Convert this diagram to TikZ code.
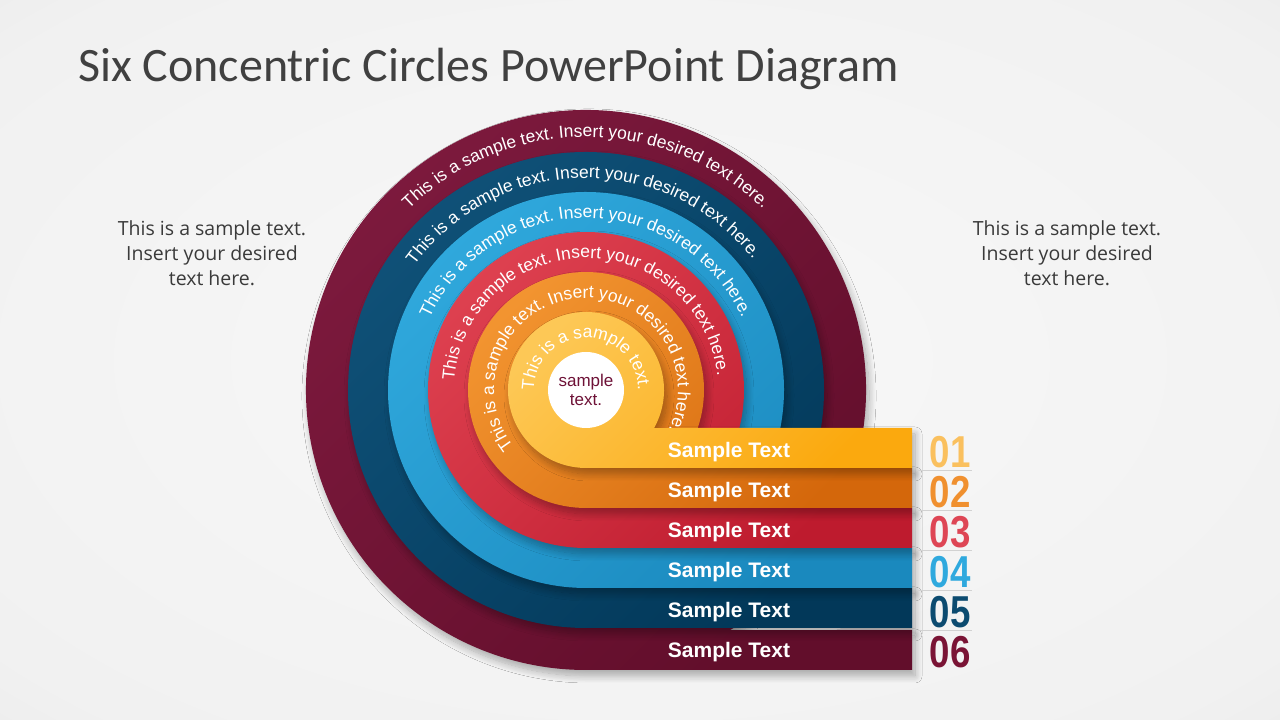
\documentclass[tikz,border=0pt]{standalone}
\usepackage{fontspec}
\usepackage{tikz}
\usetikzlibrary{decorations.text,shadows.blur}
\usepackage{xcolor}
\setmainfont{Open Sans}
\newfontfamily\titlefont{Carlito}
\newfontfamily\arcfont{Liberation Sans}
\newfontfamily\numfont[FakeStretch=0.82]{Liberation Sans}
\definecolor{bgA}{HTML}{F8F8F8}
\definecolor{bgC}{HTML}{F1F1F1}
\definecolor{bgB}{HTML}{E2E2E2}
\definecolor{yellowA}{HTML}{FDC856}
\definecolor{yellowB}{HTML}{FBA90E}
\definecolor{orangeA}{HTML}{F29430}
\definecolor{orangeB}{HTML}{D4670B}
\definecolor{redA}{HTML}{DE4150}
\definecolor{redB}{HTML}{BE1B2E}
\definecolor{cyanA}{HTML}{30A9DD}
\definecolor{cyanB}{HTML}{1A89BE}
\definecolor{navyA}{HTML}{105279}
\definecolor{navyB}{HTML}{023859}
\definecolor{wineA}{HTML}{7E1A3E}
\definecolor{wineB}{HTML}{620E2B}
\definecolor{numA}{HTML}{FAC05E}
\definecolor{numB}{HTML}{F0902F}
\definecolor{numC}{HTML}{DE4655}
\definecolor{numD}{HTML}{2FA9DE}
\definecolor{numE}{HTML}{0C4B70}
\definecolor{numF}{HTML}{7A1435}
\definecolor{centertext}{HTML}{6E1237}
\definecolor{sidegray}{HTML}{3A3A3A}
\definecolor{titlegray}{HTML}{404040}
\definecolor{sepgray}{HTML}{D2D2D2}
\pgfdeclareradialshading{slidebg}{\pgfpoint{0bp}{0bp}}{color(0bp)=(bgA); color(32bp)=(bgC); color(50bp)=(bgB)}
\newcommand\arcstyle{\arcfont\fontsize{17.5}{20}\selectfont\color{white}}

\begin{document}
\begin{tikzpicture}[x=1pt,y=1pt,node distance=221pt,
  ring/.style={blur shadow={shadow xshift=3pt,shadow yshift=-6pt,shadow blur radius=7pt,shadow blur steps=12,shadow opacity=30}},
  wine/.style={top color=wineA,bottom color=wineB,shading angle=45},
  navy/.style={top color=navyA,bottom color=navyB,shading angle=45},
  cyan/.style={top color=cyanA,bottom color=cyanB,shading angle=45},
  redring/.style={top color=redA,bottom color=redB,shading angle=45},
  orange/.style={top color=orangeA,bottom color=orangeB,shading angle=45},
  yellow/.style={top color=yellowA,bottom color=yellowB,shading angle=45},
  ringtext/.style={decorate,decoration={text along path,text align=center,text={|\arcstyle|#1}}},
  bandtext/.style={text=white,font=\arcfont\bfseries\fontsize{21}{24}\selectfont},
  digits/.style={font=\numfont\bfseries\fontsize{44.7}{46}\selectfont,inner sep=0pt},
  sidetext/.style={align=center,text=sidegray,font=\fontsize{19.5}{25}\selectfont},
  sepline/.style={draw=sepgray,line width=0.8pt}]
  \useasboundingbox (0,0) rectangle (1280,720);
  \shade[shading=slidebg] (0,0) rectangle (1280,720);
  \coordinate (O) at (586,330);

  \shade[ring,wine] (586,50) -- (912,50) -- (912,90) -- ([shift={(-59.00:280pt)}]O) arc[start angle=-59.00,end angle=270,radius=280pt] -- cycle;
  \path[ringtext=This is a sample text. Insert your desired text here.] ([shift={(262:253pt)}]O) arc[start angle=262,end angle=-82,radius=253pt];
  \shade[ring,navy] (586,92) -- (912,92) -- (912,132) -- ([shift={(-56.30:238pt)}]O) arc[start angle=-56.30,end angle=270,radius=238pt] -- cycle;
  \path[ringtext=This is a sample text. Insert your desired text here.] ([shift={(263:212pt)}]O) arc[start angle=263,end angle=-81,radius=212pt];
  \shade[ring,cyan] (586,132) -- (912,132) -- (912,172) -- ([shift={(-52.95:198pt)}]O) arc[start angle=-52.95,end angle=270,radius=198pt] -- cycle;
  \path[ringtext=This is a sample text. Insert your desired text here.] ([shift={(262:172pt)}]O) arc[start angle=262,end angle=-82,radius=172pt];
  \shade[ring,redring] (586,172) -- (912,172) -- (912,212) -- ([shift={(-48.31:158pt)}]O) arc[start angle=-48.31,end angle=270,radius=158pt] -- cycle;
  \path[ringtext=This is a sample text. Insert your desired text here.] ([shift={(261:132pt)}]O) arc[start angle=261,end angle=-79,radius=132pt];
  \shade[ring,orange] (586,212) -- (912,212) -- (912,252) -- ([shift={(-41.38:118pt)}]O) arc[start angle=-41.38,end angle=270,radius=118pt] -- cycle;
  \path[ringtext=This is a sample text. Insert your desired text here.] ([shift={(266:92pt)}]O) arc[start angle=266,end angle=-74,radius=92pt];
  \shade[ring,yellow] (586,252) -- (912,252) -- (912,292) -- ([shift={(-29.16:78pt)}]O) arc[start angle=-29.16,end angle=270,radius=78pt] -- cycle;
  \path[ringtext=This is a sample text.] ([shift={(262:52pt)}]O) arc[start angle=262,end angle=-82,radius=52pt];
  \fill[white] (O) circle[radius=38pt];
  \node[align=center,text=centertext,font=\arcfont\fontsize{17}{19}\selectfont] (M) at (O) {sample\\text.};

  \node[bandtext] (S1) at (729,268) {Sample Text};
  \node[bandtext] (S2) at (729,228) {Sample Text};
  \node[bandtext] (S3) at (729,188) {Sample Text};
  \node[bandtext] (S4) at (729,148) {Sample Text};
  \node[bandtext] (S5) at (729,108) {Sample Text};
  \node[bandtext] (S6) at (729,68) {Sample Text};

  \node[digits,text=numA] (N1) [right of=S1] {01};
  \node[digits,text=numB] (N2) [right of=S2] {02};
  \node[digits,text=numC] (N3) [right of=S3] {03};
  \node[digits,text=numD] (N4) [right of=S4] {04};
  \node[digits,text=numE] (N5) [right of=S5] {05};
  \node[digits,text=numF] (N6) [right of=S6] {06};
  \draw[sepline] (918,250) -- (972,250);
  \draw[sepline] (918,210) -- (972,210);
  \draw[sepline] (918,170) -- (972,170);
  \draw[sepline] (918,130) -- (972,130);
  \draw[sepline] (918,90) -- (972,90);

  \node[sidetext] (L) at (212,467) {This is a sample text.\\Insert your desired\\text here.};
  \node[sidetext] (R) at (1067,467) {This is a sample text.\\Insert your desired\\text here.};
  \node[anchor=base west,inner sep=0pt,text=titlegray,font=\titlefont\fontsize{48}{50}\selectfont] (T) at (78,638) {Six Concentric Circles PowerPoint Diagram};
\end{tikzpicture}
\end{document}
